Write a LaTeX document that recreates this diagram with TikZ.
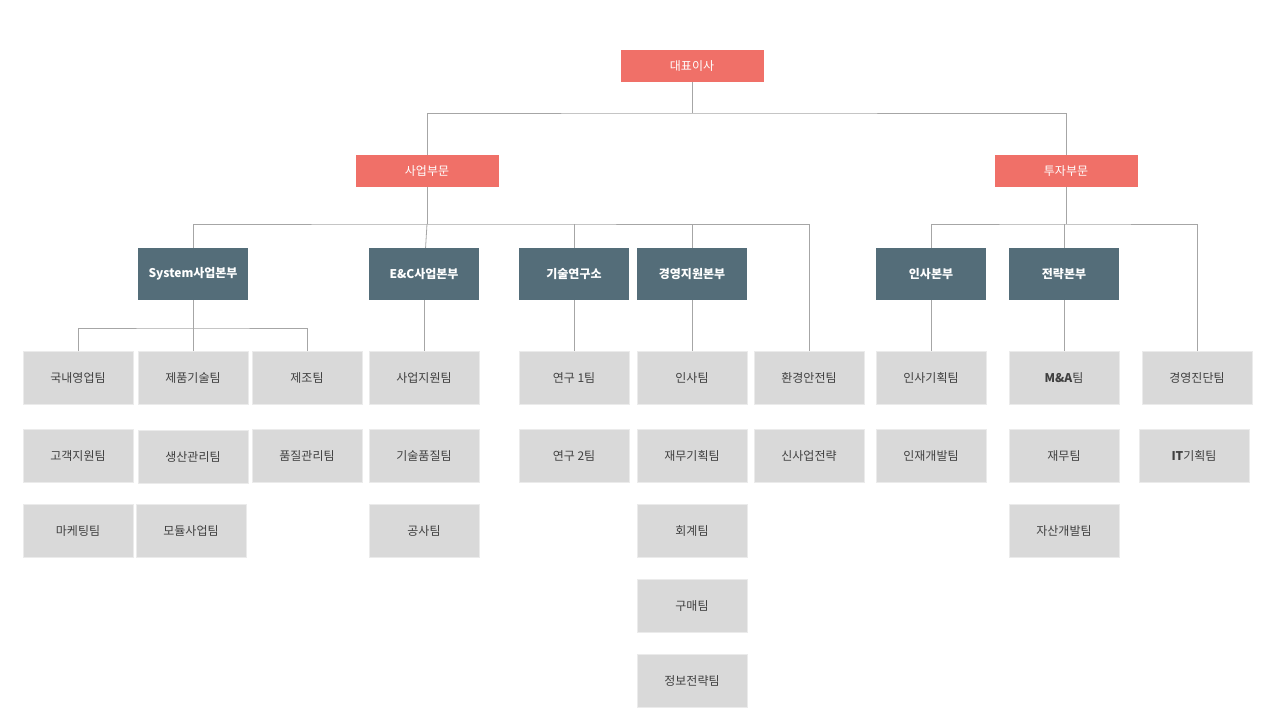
\documentclass[tikz,border=0pt]{standalone}
\usepackage{fontspec}
\setmainfont{Noto Sans CJK KR}
\usetikzlibrary{positioning}
\definecolor{salmon}{HTML}{F07068}
\definecolor{slate}{HTML}{546D79}
\definecolor{teamgray}{HTML}{D9D9D9}
\definecolor{linegray}{HTML}{A6A6A6}
\definecolor{textgray}{HTML}{404040}

\begin{document}
\begin{tikzpicture}[x=1pt,y=-1pt,font=\fontsize{12}{14}\selectfont]

	\tikzstyle{top}=[fill=salmon,text=white,minimum width=143pt,minimum height=32pt,inner sep=0pt]
	\tikzstyle{head}=[fill=slate,text=white,font=\fontsize{12}{14}\selectfont\bfseries,minimum width=110pt,minimum height=52pt,inner sep=0pt]
	\tikzstyle{team}=[fill=teamgray,draw=white!92!black,text=textgray,minimum width=110pt,minimum height=53pt,inner sep=0pt]
	\tikzstyle{link}=[draw=linegray,line width=0.8pt]

	\useasboundingbox (0,0) rectangle (1280,720);

	\node[top] (ceo) at (692,66) {대표이사};
	\node[top] (biz) at (427,171) {사업부문};
	\node[top] (inv) at (1066,171) {투자부문};

	\node[head] (sys) at (193,274) {System사업본부};
	\node[head] (enc) at (424,274) {E\&C사업본부};
	\node[head] (lab) at (574,274) {기술연구소};
	\node[head] (mgt) at (692,274) {경영지원본부};
	\node[head] (hr) at (931,274) {인사본부};
	\node[head] (str) at (1064,274) {전략본부};

	% System
	\node[team] (s1) at (78,378) {국내영업팀};
	\node[team] (s2) at (78,456) {고객지원팀};
	\node[team] (s3) at (78,531) {마케팅팀};
	\node[team] (s4) at (193,378) {제품기술팀};
	\node[team] (s5) at (193,457) {생산관리팀};
	\node[team] (s6) at (191,531) {모듈사업팀};
	\node[team] (s7) at (307,378) {제조팀};
	\node[team] (s8) at (307,456) {품질관리팀};
	% E&C
	\node[team] (e1) at (424,378) {사업지원팀};
	\node[team] (e2) at (424,456) {기술품질팀};
	\node[team] (e3) at (424,531) {공사팀};
	% lab
	\node[team] (l1) at (574,378) {연구 1팀};
	\node[team] (l2) at (574,456) {연구 2팀};
	% mgt
	\node[team] (m1) at (692,378) {인사팀};
	\node[team] (m2) at (692,456) {재무기획팀};
	\node[team] (m3) at (692,531) {회계팀};
	\node[team] (m4) at (692,606) {구매팀};
	\node[team] (m5) at (692,681) {정보전략팀};
	% safety
	\node[team] (v1) at (809,378) {환경안전팀};
	\node[team] (v2) at (809,456) {신사업전략};
	% hr
	\node[team] (h1) at (931,378) {인사기획팀};
	\node[team] (h2) at (931,456) {인재개발팀};
	% strategy
	\node[team] (t1) at (1064,378) {\textbf{M\&A}팀};
	\node[team] (t2) at (1064,456) {재무팀};
	\node[team] (t3) at (1064,531) {자산개발팀};
	% diagnosis
	\node[team] (d1) at (1197,378) {경영진단팀};
	\node[team] (d2) at (1194,456) {\textbf{IT}기획팀};

	\coordinate (ceoj) at (692,113);
	\coordinate (bizj) at (427,224);
	\coordinate (invj) at (1066,224);
	\coordinate (sysj) at (193,328);

	\draw[link] (ceo) -- (ceoj);
	\draw[link] (biz.north) |- (ceoj) -| (inv.north);

	\draw[link] (biz) -- (bizj);
	\draw[link] (sys.north) |- (bizj) -| (v1.north);
	\draw[link] (enc) -- (bizj);
	\draw[link] (lab.north) -- (lab.north |- bizj);
	\draw[link] (mgt.north) -- (mgt.north |- bizj);

	\draw[link] (inv) -- (invj);
	\draw[link] (hr.north) |- (invj) -| (d1.north);
	\draw[link] (str.north) -- (str.north |- invj);

	\draw[link] (sys) -- (s4);
	\draw[link] (s1.north) |- (sysj) -| (s7.north);
	\draw[link] (enc) -- (e1);
	\draw[link] (lab) -- (l1);
	\draw[link] (mgt) -- (m1);
	\draw[link] (hr) -- (h1);
	\draw[link] (str) -- (t1);
\end{tikzpicture}
\end{document}
